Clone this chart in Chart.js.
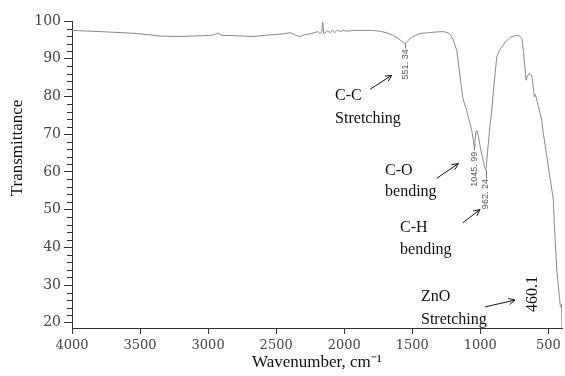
<!DOCTYPE html>
<html>
<head>
<meta charset="utf-8">
<script src="https://cdn.jsdelivr.net/npm/chart.js@4.4.1/dist/chart.umd.min.js"></script>
<style>
  html, body { margin: 0; padding: 0; background: #fff; }
  canvas { display: block; }
</style>
</head>
<body>
<canvas id="ftirChart" width="565" height="376"></canvas>
<script>
// Phổ FTIR: số sóng (cm-1) và độ truyền qua
const wavenumbers = [4000, 3800, 3525, 3353, 3200, 3037, 2960, 2927, 2900, 2800, 2670, 2550, 2450, 2398, 2360, 2325, 2300, 2250,
  2192, 2178, 2165, 2158, 2150, 2141, 2120, 2104, 2085, 2070, 2050, 2031, 2010, 1981, 1930, 1884, 1800, 1737, 1690, 1641,
  1600, 1570, 1553, 1530, 1500, 1443, 1380, 1320, 1274, 1240, 1222, 1200, 1173, 1137, 1125, 1105, 1088, 1063, 1051, 1046,
  1040, 1033, 1026, 1015, 1000, 985, 970, 960, 955, 948, 940, 930, 916, 900, 879, 860, 842, 815, 782, 755, 732, 710, 695,
  684, 664, 652, 640, 622, 610, 603, 595, 585, 561, 549, 537, 500, 463, 458, 438, 419, 412, 406, 403, 400];
const transmittance = [97.5, 97.2, 96.7, 96.0, 95.9, 96.1, 96.3, 96.8, 96.2, 96.1, 95.9, 96.3, 96.6, 96.9, 96.3, 95.8, 96.3, 96.6,
  97.2, 96.6, 97.0, 99.7, 96.6, 96.9, 97.4, 96.9, 97.6, 96.9, 97.6, 97.2, 97.5, 97.3, 97.5, 97.5, 97.5, 97.3, 96.9, 96.2,
  95.3, 94.4, 94.0, 94.8, 95.8, 96.7, 96.9, 97.1, 97.2, 96.9, 96.5, 95.0, 92.2, 82.0, 79.0, 76.8, 74.6, 71.0, 68.4, 66.6,
  68.0, 70.5, 71.0, 69.5, 66.5, 64.0, 61.5, 60.4, 62.0, 64.9, 68.0, 72.0, 76.4, 83.0, 90.5, 92.2, 93.1, 94.5, 95.6, 96.0,
  96.2, 96.0, 95.3, 92.2, 84.3, 85.6, 86.1, 85.6, 82.0, 79.9, 80.5, 79.0, 75.5, 73.7, 70.2, 61.3, 52.5, 47.2, 33.9, 26.9,
  24.3, 24.0, 24.9, 18.6];

const xTickValues = [4000, 3500, 3000, 2500, 2000, 1500, 1000, 500];
const yTickValues = [20, 30, 40, 50, 60, 70, 80, 90, 100];

// Nhãn đỉnh hấp thụ (ghi dọc)
const peakLabels = ["551. 34", "1045. 99", "962. 24"];
const peakWavenumbers = [1553, 1046, 960];

// Chú thích nhóm chức
const noteLines = [["C-C", "Stretching"], ["C-O", "bending"], ["C-H", "bending"], ["ZnO", "Stretching"]];

// Vị trí chú thích theo toạ độ dữ liệu (số sóng, độ truyền qua)
const notePlaces = [
  { x: 2067, y1: 80.3, y2: 74.2, arrow: [1810, 81.9, 1651, 85.6] },
  { x: 1700, y1: 60.4, y2: 54.7, arrow: [1320, 58.3, 1161, 62.2] },
  { x: 1590, y1: 45.1, y2: 39.3, arrow: [1129, 46.5, 1002, 50.0] },
  { x: 1436, y1: 26.9, y2: 20.7, arrow: [965, 24.2, 745, 26.0] }
];
const peakTextCenters = [88.5, 60.7, 54.1];
const znoLabel = { text: "460.1", x: 616, y: 27.6 };

function drawArrow(ctx, x1, y1, x2, y2) {
  const ang = Math.atan2(y2 - y1, x2 - x1);
  const head = 7;
  ctx.beginPath();
  ctx.moveTo(x1, y1);
  ctx.lineTo(x2, y2);
  ctx.moveTo(x2 - head * Math.cos(ang - 0.45), y2 - head * Math.sin(ang - 0.45));
  ctx.lineTo(x2, y2);
  ctx.lineTo(x2 - head * Math.cos(ang + 0.45), y2 - head * Math.sin(ang + 0.45));
  ctx.stroke();
}

const notesPlugin = {
  id: "ftirNotes",
  afterDraw(chart) {
    const ctx = chart.ctx;
    const xs = chart.scales.x;
    const ys = chart.scales.y;
    const px = (w) => xs.getPixelForValue(w);
    const py = (t) => ys.getPixelForValue(t);
    ctx.save();

    // vạch chia phụ trục tung
    ctx.strokeStyle = "#333";
    ctx.lineWidth = 1;
    for (let v = 22; v < 100; v += 2) {
      if (v % 10 === 0) continue;
      const y = Math.round(py(v)) + 0.5;
      ctx.beginPath();
      ctx.moveTo(xs.left - 5, y);
      ctx.lineTo(xs.left, y);
      ctx.stroke();
    }

    // tiêu đề trục tung
    ctx.fillStyle = "#111";
    ctx.font = "17px 'Liberation Serif'";
    ctx.textAlign = "center";
    ctx.textBaseline = "middle";
    ctx.save();
    ctx.translate(18, 148);
    ctx.rotate(-Math.PI / 2);
    ctx.fillText("Transmittance", 0, 0);
    ctx.restore();

    // nhãn đỉnh
    ctx.font = "9px 'Liberation Sans'";
    ctx.fillStyle = "#555";
    ctx.strokeStyle = "#777";
    peakLabels.forEach((label, i) => {
      const w = peakWavenumbers[i];
      const idx = wavenumbers.indexOf(w);
      const x = px(w);
      const yPeak = py(transmittance[idx]);
      const yc = py(peakTextCenters[i]);
      const half = ctx.measureText(label).width / 2;
      ctx.beginPath();
      ctx.moveTo(Math.round(x) + 0.5, yPeak);
      ctx.lineTo(Math.round(x) + 0.5, yc - half - 1);
      ctx.stroke();
      ctx.save();
      ctx.translate(x, yc);
      ctx.rotate(-Math.PI / 2);
      ctx.fillText(label, 0, 0);
      ctx.restore();
    });

    // chú thích nhóm chức và mũi tên
    ctx.font = "16px 'Liberation Serif'";
    ctx.fillStyle = "#111";
    ctx.strokeStyle = "#111";
    ctx.textAlign = "left";
    noteLines.forEach((lines, i) => {
      const p = notePlaces[i];
      ctx.fillText(lines[0], px(p.x), py(p.y1));
      ctx.fillText(lines[1], px(p.x), py(p.y2));
      const a = p.arrow;
      drawArrow(ctx, px(a[0]), py(a[1]), px(a[2]), py(a[3]));
    });

    ctx.font = "16px 'Liberation Serif'";
    ctx.textAlign = "center";
    ctx.save();
    ctx.translate(px(znoLabel.x), py(znoLabel.y));
    ctx.rotate(-Math.PI / 2);
    ctx.fillText(znoLabel.text, 0, 0);
    ctx.restore();

    ctx.restore();
  }
};

const points = wavenumbers.map((w, i) => ({ x: w, y: transmittance[i] }));

new Chart(document.getElementById("ftirChart"), {
  type: "line",
  data: {
    datasets: [{
      data: points,
      borderColor: "#8a8a8a",
      borderWidth: 1,
      pointRadius: 0,
      fill: false,
      tension: 0
    }]
  },
  options: {
    responsive: false,
    animation: false,
    layout: { padding: { top: 21, right: 3, left: 0, bottom: 0 } },
    plugins: { legend: { display: false }, tooltip: { enabled: false } },
    scales: {
      x: {
        type: "linear",
        reverse: true,
        min: 400,
        max: 4000,
        afterBuildTicks: (s) => { s.ticks = xTickValues.map((v) => ({ value: v })); },
        afterFit: (s) => { s.height = 48; },
        ticks: {
          font: { family: "DejaVu Serif", size: 13 },
          color: "#444",
          padding: 4,
          autoSkip: false,
          maxRotation: 0,
          callback: (v) => String(v)
        },
        grid: { drawOnChartArea: false, tickLength: 6, color: "#333" },
        border: { color: "#333" },
        title: {
          display: true,
          text: "Wavenumber, cm\u207B\u00B9",
          font: { family: "Liberation Serif", size: 17 },
          color: "#111",
          padding: { top: 0, bottom: 3 }
        }
      },
      y: {
        min: 18.6,
        max: 100,
        afterBuildTicks: (s) => { s.ticks = yTickValues.map((v) => ({ value: v })); },
        afterFit: (s) => { s.width = 72; },
        ticks: {
          font: { family: "DejaVu Serif", size: 14 },
          color: "#444",
          padding: 3,
          callback: (v) => String(v)
        },
        grid: { drawOnChartArea: false, tickLength: 8, color: "#333" },
        border: { color: "#333" }
      }
    }
  },
  plugins: [notesPlugin]
});
</script>
</body>
</html>
